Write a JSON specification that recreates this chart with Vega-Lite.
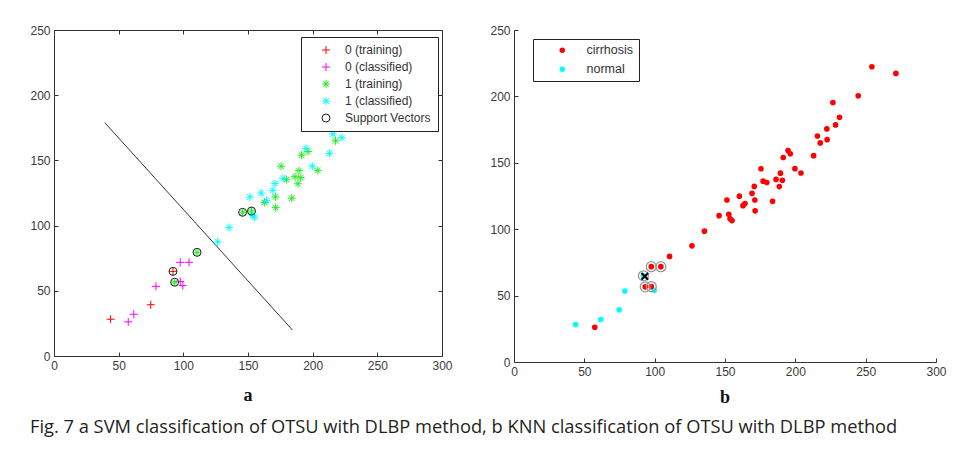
{
  "$schema": "https://vega.github.io/schema/vega-lite/v6.json",
  "padding": {"left": 29, "top": 24, "right": 4, "bottom": 4},
  "background": "white",
  "title": {
    "text": "Fig. 7  a SVM classification of OTSU with DLBP method, b KNN classification of OTSU with DLBP method",
    "orient": "bottom",
    "anchor": "start",
    "font": "Open Sans",
    "fontSize": 18.3,
    "fontWeight": "normal",
    "color": "#231f20",
    "offset": 12
  },
  "spacing": 36,
  "resolve": {"scale": {"color": "independent", "shape": "independent"}, "legend": {"color": "independent", "shape": "independent"}},
  "hconcat": [
    {
      "width": 388,
      "height": 326,
      "title": {"text": "a", "orient": "bottom", "font": "Liberation Serif", "fontSize": 18, "fontWeight": "bold", "color": "#111", "offset": 16},
      "layer": [
        {
          "data": {"values": [{"x": 39.2, "y": 179}, {"x": 184.3, "y": 20}]},
          "mark": {"type": "line", "color": "#333", "strokeWidth": 1},
          "encoding": {
            "x": {"field": "x", "type": "quantitative", "scale": {"domain": [0, 300], "nice": false}, "axis": {"orient": "top", "labels": false, "values": [0, 50, 100, 150, 200, 250, 300]}},
            "y": {"field": "y", "type": "quantitative", "scale": {"domain": [0, 250], "nice": false}, "axis": {"orient": "right", "labels": false, "values": [0, 50, 100, 150, 200, 250]}}
          }
        },
        {
          "data": {"values": [
            {"x": 43.8, "y": 28.2, "series": "0 (training)"},
            {"x": 74.8, "y": 39.3, "series": "0 (training)"},
            {"x": 92, "y": 64.9, "series": "0 (training)"},
            {"x": 57.4, "y": 26.2, "series": "0 (classified)"},
            {"x": 61.7, "y": 32, "series": "0 (classified)"},
            {"x": 78.8, "y": 53.4, "series": "0 (classified)"},
            {"x": 97.6, "y": 71.8, "series": "0 (classified)"},
            {"x": 104.4, "y": 71.8, "series": "0 (classified)"},
            {"x": 97.6, "y": 57.2, "series": "0 (classified)"},
            {"x": 99.6, "y": 54, "series": "0 (classified)"},
            {"x": 93.3, "y": 56.6, "series": "1 (training)"},
            {"x": 110.6, "y": 79.5, "series": "1 (training)"},
            {"x": 145.8, "y": 110.2, "series": "1 (training)"},
            {"x": 152.7, "y": 111.2, "series": "1 (training)"},
            {"x": 162.8, "y": 117.7, "series": "1 (training)"},
            {"x": 171.2, "y": 122, "series": "1 (training)"},
            {"x": 171.4, "y": 113.8, "series": "1 (training)"},
            {"x": 175.6, "y": 145.5, "series": "1 (training)"},
            {"x": 179.7, "y": 135.2, "series": "1 (training)"},
            {"x": 183.8, "y": 121, "series": "1 (training)"},
            {"x": 186.3, "y": 137.5, "series": "1 (training)"},
            {"x": 189.4, "y": 142.2, "series": "1 (training)"},
            {"x": 190.8, "y": 136.8, "series": "1 (training)"},
            {"x": 188.6, "y": 132.1, "series": "1 (training)"},
            {"x": 191.4, "y": 154, "series": "1 (training)"},
            {"x": 196.4, "y": 156.8, "series": "1 (training)"},
            {"x": 204, "y": 142.3, "series": "1 (training)"},
            {"x": 217.7, "y": 165, "series": "1 (training)"},
            {"x": 126.5, "y": 87.5, "series": "1 (classified)"},
            {"x": 135.4, "y": 98.5, "series": "1 (classified)"},
            {"x": 151.4, "y": 122, "series": "1 (classified)"},
            {"x": 153.6, "y": 107.8, "series": "1 (classified)"},
            {"x": 155, "y": 106.5, "series": "1 (classified)"},
            {"x": 160.2, "y": 124.9, "series": "1 (classified)"},
            {"x": 164.2, "y": 119.3, "series": "1 (classified)"},
            {"x": 169.2, "y": 127, "series": "1 (classified)"},
            {"x": 170.8, "y": 132.2, "series": "1 (classified)"},
            {"x": 177.1, "y": 136.2, "series": "1 (classified)"},
            {"x": 194.8, "y": 159.2, "series": "1 (classified)"},
            {"x": 199.7, "y": 145.6, "series": "1 (classified)"},
            {"x": 213, "y": 155.4, "series": "1 (classified)"},
            {"x": 215.7, "y": 170.2, "series": "1 (classified)"},
            {"x": 222.6, "y": 167.4, "series": "1 (classified)"},
            {"x": 92, "y": 64.9, "series": "Support Vectors"},
            {"x": 93.3, "y": 56.6, "series": "Support Vectors"},
            {"x": 110.6, "y": 79.5, "series": "Support Vectors"},
            {"x": 145.8, "y": 110.2, "series": "Support Vectors"},
            {"x": 152.7, "y": 111.2, "series": "Support Vectors"}
          ]},
          "mark": {"type": "point", "filled": false, "strokeWidth": 1, "size": 64, "opacity": 1},
          "encoding": {
            "x": {"field": "x", "type": "quantitative", "scale": {"domain": [0, 300], "nice": false}, "axis": {"orient": "bottom", "values": [0, 50, 100, 150, 200, 250, 300]}},
            "y": {"field": "y", "type": "quantitative", "scale": {"domain": [0, 250], "nice": false}, "axis": {"orient": "left", "values": [0, 50, 100, 150, 200, 250]}},
            "color": {
              "field": "series", "type": "nominal",
              "scale": {"domain": ["0 (training)", "0 (classified)", "1 (training)", "1 (classified)", "Support Vectors"], "range": ["#ff0000", "#ff00ff", "#22ee22", "#00ffff", "#222222"]},
              "legend": {"title": null, "orient": "none", "legendX": 247, "legendY": 7, "strokeColor": "#222", "fillColor": "white", "padding": 7, "symbolOffset": 12, "labelOffset": 13, "rowPadding": 5, "labelFont": "Liberation Sans", "labelFontSize": 12, "labelColor": "#333", "symbolStrokeWidth": 1, "symbolSize": 64}
            },
            "shape": {
              "field": "series", "type": "nominal",
              "scale": {"domain": ["0 (training)", "0 (classified)", "1 (training)", "1 (classified)", "Support Vectors"], "range": ["M-1,0L1,0M0,-1L0,1", "M-1,0L1,0M0,-1L0,1", "M-1,0L1,0M0,-1L0,1M-0.7,-0.7L0.7,0.7M-0.7,0.7L0.7,-0.7", "M-1,0L1,0M0,-1L0,1M-0.7,-0.7L0.7,0.7M-0.7,0.7L0.7,-0.7", "circle"]},
              "legend": {"title": null, "orient": "none", "legendX": 247, "legendY": 7, "strokeColor": "#222", "fillColor": "white", "padding": 7, "symbolOffset": 12, "labelOffset": 13, "rowPadding": 5, "labelFont": "Liberation Sans", "labelFontSize": 12, "labelColor": "#333", "symbolStrokeWidth": 1, "symbolSize": 64}
            }
          }
        }
      ],
      "resolve": {"axis": {"x": "independent", "y": "independent"}}
    },
    {
      "width": 422,
      "height": 332,
      "title": {"text": "b", "orient": "bottom", "font": "Liberation Serif", "fontSize": 18, "fontWeight": "bold", "color": "#111", "offset": 12},
      "layer": [
        {
          "data": {"values": [
            {"x": 43.8, "y": 28.2, "class": "normal"},
            {"x": 61.7, "y": 32, "class": "normal"},
            {"x": 74.8, "y": 39.3, "class": "normal"},
            {"x": 78.8, "y": 53.4, "class": "normal"},
            {"x": 92, "y": 64.9, "class": "normal"},
            {"x": 99.6, "y": 54, "class": "normal"},
            {"x": 57.4, "y": 26.2, "class": "cirrhosis"},
            {"x": 97.6, "y": 71.8, "class": "cirrhosis"},
            {"x": 104.4, "y": 71.8, "class": "cirrhosis"},
            {"x": 93.3, "y": 56.6, "class": "cirrhosis"},
            {"x": 97.6, "y": 56.8, "class": "cirrhosis"},
            {"x": 110.6, "y": 79.5, "class": "cirrhosis"},
            {"x": 126.5, "y": 87.5, "class": "cirrhosis"},
            {"x": 135.4, "y": 98.5, "class": "cirrhosis"},
            {"x": 145.8, "y": 110.2, "class": "cirrhosis"},
            {"x": 151.4, "y": 122, "class": "cirrhosis"},
            {"x": 152.7, "y": 111.2, "class": "cirrhosis"},
            {"x": 153.6, "y": 107.8, "class": "cirrhosis"},
            {"x": 155, "y": 106.5, "class": "cirrhosis"},
            {"x": 160.2, "y": 124.9, "class": "cirrhosis"},
            {"x": 162.8, "y": 117.7, "class": "cirrhosis"},
            {"x": 164.2, "y": 119.3, "class": "cirrhosis"},
            {"x": 169.2, "y": 127, "class": "cirrhosis"},
            {"x": 170.8, "y": 132.2, "class": "cirrhosis"},
            {"x": 171.2, "y": 122, "class": "cirrhosis"},
            {"x": 171.4, "y": 113.8, "class": "cirrhosis"},
            {"x": 175.6, "y": 145.5, "class": "cirrhosis"},
            {"x": 177.1, "y": 136.2, "class": "cirrhosis"},
            {"x": 179.7, "y": 135.2, "class": "cirrhosis"},
            {"x": 183.8, "y": 121, "class": "cirrhosis"},
            {"x": 186.3, "y": 137.5, "class": "cirrhosis"},
            {"x": 188.6, "y": 132.1, "class": "cirrhosis"},
            {"x": 189.4, "y": 142.2, "class": "cirrhosis"},
            {"x": 190.8, "y": 136.8, "class": "cirrhosis"},
            {"x": 191.4, "y": 154, "class": "cirrhosis"},
            {"x": 194.8, "y": 159.2, "class": "cirrhosis"},
            {"x": 196.4, "y": 156.8, "class": "cirrhosis"},
            {"x": 199.7, "y": 145.6, "class": "cirrhosis"},
            {"x": 204, "y": 142.3, "class": "cirrhosis"},
            {"x": 213, "y": 155.4, "class": "cirrhosis"},
            {"x": 215.7, "y": 170.2, "class": "cirrhosis"},
            {"x": 217.7, "y": 165, "class": "cirrhosis"},
            {"x": 222.4, "y": 175.5, "class": "cirrhosis"},
            {"x": 222.6, "y": 167.4, "class": "cirrhosis"},
            {"x": 226.7, "y": 195.4, "class": "cirrhosis"},
            {"x": 228.6, "y": 178.5, "class": "cirrhosis"},
            {"x": 231.4, "y": 184.3, "class": "cirrhosis"},
            {"x": 244.7, "y": 200.4, "class": "cirrhosis"},
            {"x": 254.4, "y": 222.3, "class": "cirrhosis"},
            {"x": 271.5, "y": 217.3, "class": "cirrhosis"}
          ]},
          "mark": {"type": "point", "filled": true, "shape": "circle", "size": 32, "opacity": 1},
          "encoding": {
            "x": {"field": "x", "type": "quantitative", "scale": {"domain": [0, 300], "nice": false}, "axis": {"values": [0, 50, 100, 150, 200, 250, 300]}},
            "y": {"field": "y", "type": "quantitative", "scale": {"domain": [0, 250], "nice": false}, "axis": {"values": [0, 50, 100, 150, 200, 250]}},
            "color": {
              "field": "class", "type": "nominal",
              "scale": {"domain": ["cirrhosis", "normal"], "range": ["#ff0000", "#00ffff"]},
              "legend": {"title": null, "orient": "none", "legendX": 19, "legendY": 9, "strokeColor": "#222", "fillColor": "white", "padding": 5, "symbolOffset": 18, "labelOffset": 18, "rowPadding": 6, "labelFont": "Liberation Sans", "labelFontSize": 12.5, "labelColor": "#333", "symbolSize": 30, "symbolType": "circle"}
            }
          }
        },
        {
          "data": {"values": [
            {"x": 92, "y": 64.9},
            {"x": 97.6, "y": 71.8},
            {"x": 104.4, "y": 71.8},
            {"x": 93.3, "y": 56.6},
            {"x": 97.6, "y": 56.8}
          ]},
          "mark": {"type": "point", "filled": false, "shape": "circle", "size": 100, "color": "#999999", "strokeWidth": 1.3, "opacity": 1},
          "encoding": {
            "x": {"field": "x", "type": "quantitative"},
            "y": {"field": "y", "type": "quantitative"}
          }
        },
        {
          "data": {"values": [{"x": 93, "y": 64.5}]},
          "mark": {"type": "point", "filled": false, "shape": "M-1,-1L1,1M-1,1L1,-1", "size": 45, "color": "#000000", "strokeWidth": 2, "opacity": 1},
          "encoding": {
            "x": {"field": "x", "type": "quantitative"},
            "y": {"field": "y", "type": "quantitative"}
          }
        }
      ]
    }
  ],
  "config": {
    "view": {"stroke": null},
    "axis": {
      "grid": false,
      "title": null,
      "labelFont": "Liberation Sans",
      "labelFontSize": 12,
      "labelColor": "#3a3a3a",
      "domainColor": "#333333",
      "tickColor": "#333333",
      "tickSize": -4,
      "labelPadding": 8,
      "labelFlush": false,
      "labelOverlap": false
    }
  }
}
